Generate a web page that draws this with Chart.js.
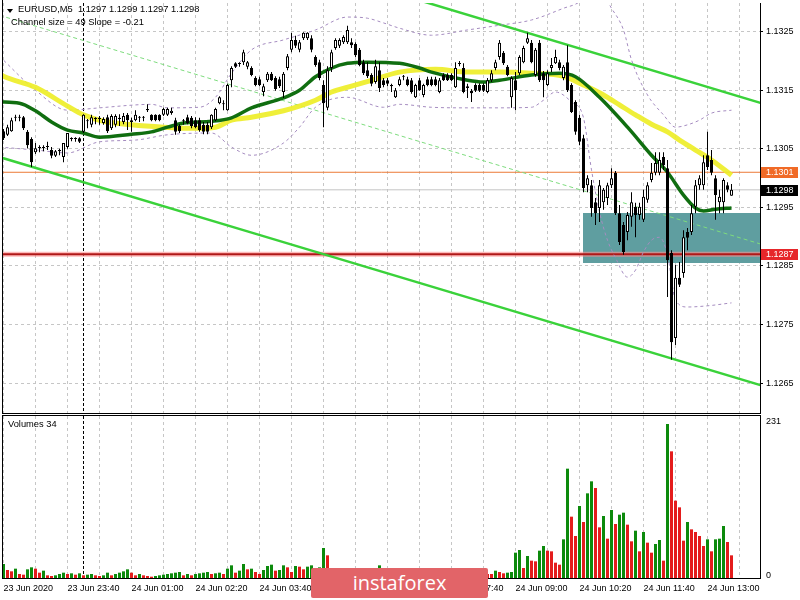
<!DOCTYPE html>
<html><head><meta charset="utf-8">
<script src="https://cdn.jsdelivr.net/npm/chart.js"></script>
<style>
body{margin:0;background:#fff;width:800px;height:600px;overflow:hidden;position:relative;font-family:"Liberation Sans",Arial,sans-serif;}
canvas{position:absolute;left:0;}
#c1{top:0;}
#c2{top:415px;}
.t{position:absolute;font-size:9.3px;color:#000;white-space:pre;line-height:1;}
#tri{position:absolute;left:7px;top:9px;width:0;height:0;border-left:3.5px solid transparent;border-right:3.5px solid transparent;border-top:4px solid #000;}
#wm{position:absolute;left:311px;top:568px;width:177px;height:30px;background:rgb(226,100,104);border-radius:2px;color:#fff;font-family:"Open Sans",sans-serif;font-size:20px;line-height:29px;text-align:center;}
</style></head><body>
<canvas id="c1" width="800" height="415"></canvas>
<canvas id="c2" width="800" height="185"></canvas>
<div id="tri"></div>
<div class="t" style="left:18px;top:5px">EURUSD,M5  1.1297 1.1299 1.1297 1.1298</div>
<div class="t" style="left:11px;top:18px">Channel size = 49 Slope = -0.21</div>
<div class="t" style="left:8px;top:420px">Volumes 34</div>
<div id="wm">instaforex</div>
<script>
// ---------- data ----------
const timeLabels = ["23 Jun 2020","23 Jun 23:40","24 Jun 01:00","24 Jun 02:20","24 Jun 03:40","24 Jun 05:00","24 Jun 06:20","24 Jun 07:40","24 Jun 09:00","24 Jun 10:20","24 Jun 11:40","24 Jun 13:00"];
const priceTicks = [1.1265,1.1275,1.1285,1.1295,1.1305,1.1315,1.1325];
const volumeTicks = [0,231];

const opens = [
1.13080,1.13074,1.13080,1.13104,1.13104,1.13104,1.13079,1.13067,1.13044,1.13051,
1.13053,1.13055,1.13048,1.13038,1.13048,1.13036,1.13053,1.13068,1.13068,1.13068,
1.13079,1.13099,1.13091,1.13103,1.13101,1.13094,1.13104,1.13085,1.13091,1.13103,
1.13096,1.13108,1.13099,1.13099,1.13104,1.13104,1.13116,1.13108,1.13108,1.13108,
1.13108,1.13108,1.13111,1.13099,1.13089,1.13099,1.13104,1.13103,1.13099,1.13099,
1.13091,1.13091,1.13087,1.13099,1.13128,1.13128,1.13116,1.13167,1.13196,1.13196,
1.13198,1.13190,1.13188,1.13171,1.13169,1.13147,1.13167,1.13178,1.13171,1.13169,
1.13147,1.13188,1.13219,1.13236,1.13219,1.13239,1.13239,1.13239,1.13207,1.13198,
1.13159,1.13120,1.13188,1.13222,1.13226,1.13232,1.13232,1.13232,1.13229,1.13219,
1.13198,1.13184,1.13176,1.13164,1.13184,1.13167,1.13167,1.13159,1.13138,1.13159,
1.13174,1.13169,1.13167,1.13138,1.13167,1.13142,1.13169,1.13169,1.13169,1.13147,
1.13176,1.13176,1.13176,1.13155,1.13196,1.13188,1.13157,1.13149,1.13159,1.13159,
1.13159,1.13147,1.13167,1.13188,1.13207,1.13214,1.13190,1.13138,1.13167,1.13179,
1.13198,1.13231,1.13231,1.13176,1.13231,1.13179,1.13159,1.13188,1.13196,1.13198,
1.13171,1.13198,1.13159,1.13130,1.13103,1.13068,1.12988,1.12988,1.12959,1.12949,
1.12959,1.12966,1.12988,1.13009,1.12940,1.12920,1.12908,1.12934,1.12951,1.12937,
1.12929,1.12963,1.12997,1.13009,1.13009,1.13036,1.13017,1.12872,1.12727,1.12830,
1.12838,1.12908,1.12908,1.12951,1.12988,1.12988,1.13039,1.13031,1.13000,1.12959,
1.12959,1.12988,1.12970];
const highs = [
1.13084,1.13091,1.13103,1.13108,1.13108,1.13106,1.13082,1.13070,1.13060,1.13056,
1.13056,1.13062,1.13053,1.13048,1.13050,1.13060,1.13077,1.13070,1.13070,1.13070,
1.13109,1.13101,1.13108,1.13104,1.13106,1.13104,1.13108,1.13109,1.13109,1.13109,
1.13111,1.13111,1.13103,1.13116,1.13106,1.13106,1.13126,1.13109,1.13109,1.13109,
1.13120,1.13120,1.13120,1.13103,1.13092,1.13101,1.13108,1.13106,1.13104,1.13103,
1.13096,1.13096,1.13109,1.13120,1.13140,1.13133,1.13161,1.13191,1.13198,1.13198,
1.13219,1.13200,1.13191,1.13174,1.13173,1.13161,1.13181,1.13181,1.13174,1.13173,
1.13181,1.13212,1.13248,1.13243,1.13236,1.13249,1.13249,1.13244,1.13210,1.13202,
1.13167,1.13191,1.13219,1.13239,1.13239,1.13244,1.13260,1.13239,1.13232,1.13222,
1.13202,1.13198,1.13179,1.13202,1.13198,1.13171,1.13171,1.13161,1.13154,1.13173,
1.13176,1.13173,1.13171,1.13161,1.13171,1.13161,1.13173,1.13173,1.13173,1.13171,
1.13179,1.13179,1.13179,1.13198,1.13200,1.13196,1.13161,1.13152,1.13162,1.13162,
1.13162,1.13171,1.13184,1.13202,1.13236,1.13217,1.13193,1.13174,1.13181,1.13210,
1.13226,1.13248,1.13236,1.13222,1.13236,1.13183,1.13184,1.13205,1.13219,1.13202,
1.13193,1.13227,1.13162,1.13133,1.13108,1.13074,1.13005,1.12997,1.12966,1.12997,
1.12983,1.12992,1.13017,1.13012,1.12954,1.12925,1.12942,1.12976,1.12958,1.12958,
1.12980,1.12993,1.13026,1.13044,1.13044,1.13044,1.13031,1.12877,1.12852,1.12857,
1.12911,1.12915,1.12954,1.12997,1.13005,1.13039,1.13079,1.13048,1.13005,1.12980,
1.13000,1.12993,1.12990];
const lows = [
1.13065,1.13072,1.13079,1.13097,1.13097,1.13082,1.13051,1.13019,1.13041,1.13044,
1.13046,1.13048,1.13034,1.13036,1.13039,1.13027,1.13050,1.13063,1.13062,1.13060,
1.13077,1.13085,1.13087,1.13092,1.13091,1.13091,1.13077,1.13082,1.13087,1.13089,
1.13092,1.13082,1.13079,1.13097,1.13096,1.13097,1.13113,1.13097,1.13097,1.13097,
1.13106,1.13106,1.13108,1.13074,1.13077,1.13091,1.13092,1.13085,1.13085,1.13079,
1.13075,1.13075,1.13084,1.13097,1.13126,1.13116,1.13115,1.13155,1.13188,1.13190,
1.13193,1.13186,1.13174,1.13157,1.13157,1.13140,1.13164,1.13166,1.13149,1.13154,
1.13137,1.13184,1.13215,1.13222,1.13215,1.13236,1.13236,1.13215,1.13190,1.13167,
1.13087,1.13116,1.13181,1.13219,1.13222,1.13229,1.13229,1.13222,1.13207,1.13191,
1.13176,1.13171,1.13157,1.13161,1.13147,1.13155,1.13157,1.13147,1.13137,1.13157,
1.13167,1.13157,1.13144,1.13137,1.13149,1.13138,1.13157,1.13157,1.13157,1.13145,
1.13166,1.13166,1.13166,1.13154,1.13191,1.13145,1.13137,1.13130,1.13147,1.13147,
1.13147,1.13145,1.13164,1.13184,1.13202,1.13193,1.13174,1.13120,1.13116,1.13176,
1.13196,1.13229,1.13196,1.13173,1.13164,1.13138,1.13157,1.13181,1.13195,1.13184,
1.13167,1.13147,1.13111,1.13074,1.13056,1.12976,1.12976,1.12934,1.12920,1.12925,
1.12946,1.12954,1.12983,1.12937,1.12886,1.12869,1.12894,1.12917,1.12899,1.12929,
1.12925,1.12958,1.12993,1.13005,1.13005,1.13014,1.12797,1.12690,1.12715,1.12814,
1.12830,1.12877,1.12903,1.12940,1.12980,1.12980,1.13014,1.13005,1.12929,1.12940,
1.12940,1.12976,1.12970];
const closes = [
1.13068,1.13087,1.13099,1.13103,1.13103,1.13085,1.13056,1.13027,1.13051,1.13053,
1.13051,1.13053,1.13038,1.13046,1.13046,1.13060,1.13077,1.13067,1.13067,1.13062,
1.13108,1.13097,1.13104,1.13101,1.13103,1.13101,1.13080,1.13106,1.13106,1.13101,
1.13106,1.13099,1.13096,1.13108,1.13103,1.13103,1.13118,1.13099,1.13099,1.13099,
1.13118,1.13118,1.13115,1.13079,1.13080,1.13097,1.13094,1.13089,1.13087,1.13082,
1.13079,1.13079,1.13108,1.13118,1.13138,1.13126,1.13159,1.13188,1.13190,1.13195,
1.13215,1.13198,1.13176,1.13159,1.13159,1.13157,1.13178,1.13167,1.13152,1.13157,
1.13178,1.13208,1.13236,1.13226,1.13232,1.13248,1.13248,1.13219,1.13193,1.13171,
1.13128,1.13184,1.13215,1.13236,1.13236,1.13241,1.13253,1.13227,1.13210,1.13193,
1.13179,1.13174,1.13161,1.13191,1.13154,1.13159,1.13161,1.13157,1.13150,1.13169,
1.13173,1.13159,1.13147,1.13159,1.13150,1.13159,1.13159,1.13159,1.13159,1.13167,
1.13167,1.13167,1.13167,1.13188,1.13195,1.13147,1.13154,1.13145,1.13149,1.13149,
1.13149,1.13167,1.13179,1.13198,1.13231,1.13196,1.13176,1.13171,1.13150,1.13207,
1.13222,1.13239,1.13198,1.13219,1.13167,1.13167,1.13179,1.13193,1.13207,1.13188,
1.13190,1.13150,1.13113,1.13079,1.13062,1.12983,1.13000,1.12949,1.12940,1.12988,
1.12980,1.12988,1.13000,1.12940,1.12891,1.12874,1.12937,1.12959,1.12937,1.12951,
1.12968,1.12988,1.13009,1.13026,1.13031,1.13022,1.12860,1.12720,1.12830,1.12818,
1.12899,1.12898,1.12940,1.12988,1.13000,1.13027,1.13019,1.13009,1.12971,1.12968,
1.12997,1.12980,1.12980];
const volumes = [
21,12,10,14,6,5,13,16,14,8,
11,4,3,4,6,8,6,7,5,7,
4,5,6,4,3,4,8,4,6,8,
10,13,8,4,6,4,3,2,3,4,
5,6,7,8,9,4,6,4,6,7,
8,9,6,7,8,6,14,19,8,11,
21,13,14,9,6,12,18,20,11,12,
19,16,9,18,17,13,17,19,14,16,
45,34,12,14,10,13,11,9,12,10,
8,11,13,9,19,12,8,9,11,7,
6,9,8,10,7,6,9,11,8,6,
7,9,10,8,12,9,7,6,8,10,
8,6,6,11,9,7,8,9,38,42,
15,33,26,25,41,48,41,40,23,20,
58,164,92,63,108,84,127,145,135,76,
93,59,102,81,95,98,80,55,71,40,
69,53,38,51,57,26,231,190,116,106,
56,84,73,69,63,48,58,40,58,59,
78,54,34];

const maYellowBars = [-1,0,8,16,20,25,32,40,48,53,57,62,70,78,82,87,92,99,108,116,124,132,140,145,150,154,158,162,166,169,173,177,182];
const maYellowValues = [1.13178,1.13174,1.13155,1.13123,1.13108,1.13097,1.13091,1.13087,1.13085,1.13087,1.13099,1.13104,1.13115,1.13133,1.13147,1.13157,1.13167,1.13181,1.13186,1.13181,1.13181,1.13179,1.13174,1.13159,1.13142,1.13125,1.13108,1.13092,1.13079,1.13065,1.13048,1.13031,1.13005];
const maGreenBars = [-1,4,8,12,16,20,24,32,37,41,45,52,57,62,70,74,78,82,86,91,99,104,107,116,120,124,132,139,143,149,156,162,166,170,173,175,178,182];
const maGreenValues = [1.13130,1.13128,1.13115,1.13096,1.13082,1.13077,1.13070,1.13075,1.13079,1.13087,1.13094,1.13097,1.13103,1.13120,1.13137,1.13150,1.13173,1.13188,1.13196,1.13198,1.13196,1.13188,1.13181,1.13167,1.13164,1.13167,1.13176,1.13179,1.13173,1.13138,1.13087,1.13039,1.13010,1.12971,1.12949,1.12944,1.12947,1.12949];
const bandUpperBars = [-1,8,16,24,33,37,41,49,53,57,62,70,78,86,91,95,99,107,116,124,132,140,144,148,152,155,157,161,165,168,171,174,177,182];
const bandUpperValues = [1.13208,1.13150,1.13116,1.13120,1.13125,1.13126,1.13120,1.13121,1.13138,1.13179,1.13219,1.13236,1.13253,1.13275,1.13273,1.13265,1.13256,1.13244,1.13253,1.13261,1.13270,1.13290,1.13301,1.13330,1.13290,1.13253,1.13202,1.13142,1.13108,1.13087,1.13091,1.13099,1.13111,1.13116];
const bandLowerBars = [-1,8,16,24,33,41,52,57,62,70,74,78,86,95,99,107,116,124,132,135,138,142,145,147,149,151,153,156,158,160,162,164,166,168,171,176,182];
const bandLowerValues = [1.13053,1.13048,1.13043,1.13062,1.13065,1.13074,1.13077,1.13053,1.13039,1.13060,1.13087,1.13121,1.13138,1.13121,1.13126,1.13121,1.13120,1.13120,1.13121,1.13133,1.13147,1.13130,1.13103,1.13014,1.12942,1.12894,1.12864,1.12831,1.12843,1.12874,1.12894,1.12899,1.12869,1.12792,1.12780,1.12782,1.12787];
const channelBars = [-1,190];
const channelUpper = [1.13519,1.13127];
const channelMiddle = [1.13278,1.12886];
const channelLower = [1.13036,1.12645];
const levelOrange = 1.1301, levelBid = 1.1298, levelRed = 1.1287;
const zoneTop = 1.12940, zoneBottom = 1.12855, zoneStartBar = 144.875;
const daySeparatorBar = 20;

// ---------- view settings ----------
const X_MIN = -0.125, X_MAX = 189.125;
const gridBars = []; for (let b = 0; b <= 184; b += 8) gridBars.push(b);
const FONT = {family:'"Liberation Sans", Arial, sans-serif', size:9};
const GRID = '#c6c6c6';
const idx = opens.map((_, i) => i);
const pts = (bars, vals) => bars.map((b, i) => ({x:b, y:vals[i]}));
const lineDs = (data, color, width, order, dash) => ({type:'line', data, borderColor:color, borderWidth:width, pointRadius:0, borderDash:dash||[], cubicInterpolationMode:'monotone', order});
const resetPad = s => { s.paddingLeft = 0; s.paddingRight = 0; s.paddingTop = 0; s.paddingBottom = 0; };

const levelTags = [
  {value: levelOrange, bg:'#f06a26'},
  {value: levelBid, bg:'#000000'},
  {value: levelRed, bg:'#e6262a'}
];

const pricePlugin = {
  id:'pricePane',
  beforeDatasetsDraw(chart){
    const {ctx, chartArea:a, scales:{x, y}} = chart;
    ctx.save();
    const zx = Math.round(x.getPixelForValue(zoneStartBar));
    const zt = Math.round(y.getPixelForValue(zoneTop)), zb = Math.round(y.getPixelForValue(zoneBottom));
    ctx.fillStyle = '#5f9ea0';
    ctx.fillRect(zx, zt, a.right - zx, zb - zt);
    const sx = Math.round(x.getPixelForValue(daySeparatorBar)) - 0.5;
    ctx.strokeStyle = '#000'; ctx.lineWidth = 1; ctx.setLineDash([3,2]);
    ctx.beginPath(); ctx.moveTo(sx, a.top); ctx.lineTo(sx, a.bottom); ctx.stroke();
    ctx.restore();
  },
  afterDraw(chart){
    const {ctx, chartArea:a, scales:{y}} = chart;
    ctx.save();
    ctx.strokeStyle = '#000'; ctx.lineWidth = 1; ctx.setLineDash([]);
    ctx.beginPath(); ctx.moveTo(a.left - 0.5, 0); ctx.lineTo(a.left - 0.5, a.bottom + 1); ctx.stroke();
    ctx.font = '9px "Liberation Sans", Arial, sans-serif';
    ctx.textBaseline = 'middle'; ctx.textAlign = 'left';
    levelTags.forEach(t => {
      const py = Math.round(y.getPixelForValue(t.value));
      ctx.fillStyle = t.bg; ctx.fillRect(a.right + 1, py - 5, 37, 11);
      ctx.fillStyle = '#fff'; ctx.fillText(t.value.toFixed(4), a.right + 6, py + 0.5);
    });
    ctx.restore();
  }
};

const volumePlugin = {
  id:'volumePane',
  beforeDatasetsDraw(chart){
    const {ctx, chartArea:a, scales:{x}} = chart;
    ctx.save();
    const sx = Math.round(x.getPixelForValue(daySeparatorBar)) - 0.5;
    ctx.strokeStyle = '#000'; ctx.lineWidth = 1; ctx.setLineDash([3,2]);
    ctx.beginPath(); ctx.moveTo(sx, a.top); ctx.lineTo(sx, a.bottom); ctx.stroke();
    ctx.restore();
  },
  afterDraw(chart){
    const {ctx, chartArea:a} = chart;
    ctx.save();
    ctx.strokeStyle = '#000'; ctx.lineWidth = 1; ctx.setLineDash([]);
    ctx.beginPath();
    ctx.moveTo(a.left - 0.5, 0); ctx.lineTo(a.left - 0.5, a.bottom + 1);
    ctx.moveTo(a.left - 1, 0.5); ctx.lineTo(a.right + 1, 0.5);
    ctx.stroke();
    ctx.restore();
  }
};

new Chart(document.getElementById('c1'), {
  type:'bar',
  data:{datasets:[
    {type:'bar', data: idx.map(i => ({x:i, y:[opens[i], closes[i]]})),
      backgroundColor: idx.map(i => closes[i] >= opens[i] ? '#ffffff' : '#000000'),
      borderColor:'#000', borderWidth:1, borderSkipped:false, barThickness:3, minBarLength:1, inflateAmount:0, grouped:false, order:0},
    {type:'bar', data: idx.map(i => ({x:i, y:[lows[i], highs[i]]})),
      backgroundColor:'#000', borderWidth:0, barThickness:1, inflateAmount:0, grouped:false, order:1},
    lineDs(pts(maGreenBars, maGreenValues), '#106e10', 3.5, 2),
    lineDs(pts(maYellowBars, maYellowValues), 'rgba(238,238,40,0.92)', 5, 3),
    lineDs(pts(bandUpperBars, bandUpperValues), '#a58cc0', 1, 4, [3,3]),
    lineDs(pts(bandLowerBars, bandLowerValues), '#a58cc0', 1, 5, [3,3]),
    lineDs(pts(channelBars, channelUpper), '#3ad23a', 2.5, 6),
    lineDs(pts(channelBars, channelLower), '#3ad23a', 2.5, 7),
    lineDs(pts(channelBars, channelMiddle), '#7edc7e', 1, 8, [4,3]),
    lineDs(pts(channelBars, [levelOrange, levelOrange]), '#ec7a36', 1, 9),
    lineDs(pts(channelBars, [levelBid, levelBid]), '#c4c4c4', 1, 10),
    lineDs(pts(channelBars, [levelRed, levelRed]), 'rgba(255,140,140,0.6)', 5, 12),
    lineDs(pts(channelBars, [levelRed, levelRed]), '#b01818', 2, 11)
  ]},
  options:{
    responsive:false, animation:false, events:[],
    layout:{padding:{left:3, top:3, right:0, bottom:2}},
    plugins:{legend:{display:false}, tooltip:{enabled:false}},
    scales:{
      x:{type:'linear', min:X_MIN, max:X_MAX, offset:false,
        afterBuildTicks: s => { s.ticks = gridBars.map(v => ({value:v})); },
        afterFit: s => { s.height = 0; resetPad(s); },
        ticks:{display:false},
        grid:{color:GRID, drawTicks:false, offset:false},
        border:{display:true, color:'#000', dash:[3,3]}},
      y:{type:'linear', position:'right', min:1.12599, max:1.13299,
        afterBuildTicks: s => { s.ticks = priceTicks.map(v => ({value:v})); },
        afterFit: s => { s.width = 40; resetPad(s); },
        ticks:{callback: v => Number(v).toFixed(4), color:'#000', font:FONT, padding:3, autoSkip:false},
        grid:{color:GRID, drawTicks:true, tickLength:3, tickColor:'#000', tickBorderDash:[]},
        border:{display:true, color:'#000', dash:[3,3]}}
    }
  },
  plugins:[pricePlugin]
});

new Chart(document.getElementById('c2'), {
  type:'bar',
  data:{datasets:[
    {data: idx.map(i => ({x:i, y:volumes[i]})),
      backgroundColor: idx.map(i => (i === 0 || volumes[i] > volumes[i-1]) ? '#0c8a0c' : '#e41c1c'),
      borderWidth:0, barThickness:3, inflateAmount:0, grouped:false}
  ]},
  options:{
    responsive:false, animation:false, events:[],
    layout:{padding:{left:3, top:1, right:0, bottom:0}},
    plugins:{legend:{display:false}, tooltip:{enabled:false}},
    scales:{
      x:{type:'linear', min:X_MIN, max:X_MAX, offset:false,
        afterBuildTicks: s => { s.ticks = gridBars.map(v => ({value:v})); },
        afterFit: s => { s.height = 22; resetPad(s); },
        ticks:{autoSkip:false, maxRotation:0, minRotation:0, align:'start', color:'#000', font:FONT, padding:5,
          callback: v => { const b = Math.round(v); return b % 16 === 0 ? (timeLabels[b / 16] || '') : ''; }},
        grid:{color:GRID, drawTicks:false, offset:false},
        border:{display:true, color:'#000', dash:[3,3]}},
      y:{type:'linear', position:'right', min:0, max:243,
        afterBuildTicks: s => { s.ticks = volumeTicks.map(v => ({value:v})); },
        afterFit: s => { s.width = 40; resetPad(s); },
        ticks:{color:'#000', font:FONT, padding:6, labelOffset:-2, autoSkip:false},
        grid:{display:false, drawTicks:false},
        border:{display:true, color:'#000'}}
    }
  },
  plugins:[volumePlugin]
});
</script>
</body></html>
